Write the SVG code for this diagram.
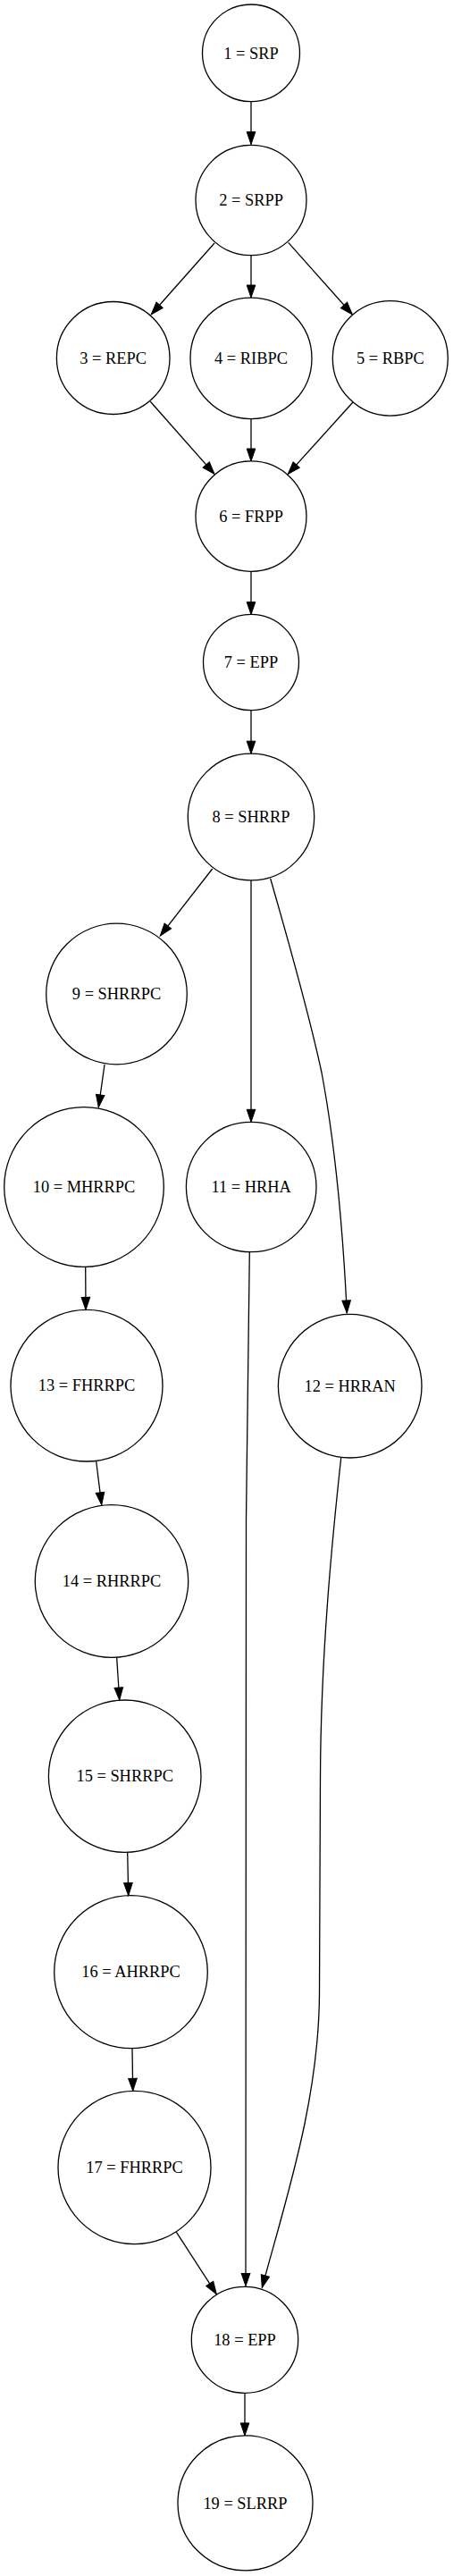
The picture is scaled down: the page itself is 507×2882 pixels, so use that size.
<svg xmlns="http://www.w3.org/2000/svg" width="507" height="2882" viewBox="0 0 507 2882">
<style>
.n ellipse{fill:none;stroke:#000;stroke-width:1.3}
.n text{font-family:"Liberation Serif","Times New Roman",serif;font-size:18.4px;text-anchor:middle;fill:#000}
.e path{fill:none;stroke:#000;stroke-width:1.3;marker-end:url(#ah)}
</style>
<defs>
<marker id="ah" markerUnits="userSpaceOnUse" markerWidth="15" markerHeight="11" refX="14" refY="4.8" orient="auto" overflow="visible">
<path d="M0,0 L14,4.8 L0,9.6 Z" fill="#000" stroke="#000" stroke-width="1"/>
</marker>
</defs>
<rect width="507" height="2882" fill="#fff"/>
<g id="edges" class="e">
<path d="M281,113.6 L281,161.5"/>
<path d="M240,272 L169.3,351.8"/>
<path d="M281,285.7 L281,333"/>
<path d="M322.7,271.4 L394.3,351.8"/>
<path d="M168.3,449.3 L240,530.4"/>
<path d="M281,468.6 L281,516"/>
<path d="M395,450 L322.3,530.4"/>
<path d="M281,639.3 L281,687.5"/>
<path d="M281,794.6 L281,843.2"/>
<path d="M237.7,972 L179.3,1047"/>
<path d="M281,985 L281,1255.3"/>
<path d="M302.7,983 C322,1050 345,1130 360,1200 C375,1280 384,1380 388.3,1469"/>
<path d="M117,1191 L110.3,1238.8"/>
<path d="M95.7,1417.5 L96,1465.4"/>
<path d="M279.3,1400.7 L275.5,1700 L275,2557.5"/>
<path d="M381.7,1631 C372,1720 359,1850 358.5,1990 L357.5,2230 C357,2350 320,2460 293.3,2559.5"/>
<path d="M107.7,1635 L113.7,1683.7"/>
<path d="M130.7,1854.5 L133.7,1902"/>
<path d="M142.7,2072.4 L143.7,2120.7"/>
<path d="M148,2291.7 L148.7,2339.3"/>
<path d="M197.3,2497.2 L242.3,2566.6"/>
<path d="M274,2677.3 L274,2724.9"/>
</g>
<g id="node1" class="n"><ellipse cx="281" cy="59.3" rx="54.5" ry="54.3"/><text x="281" y="65.5">1 = SRP</text></g>
<g id="node2" class="n"><ellipse cx="281" cy="224" rx="62" ry="61.7"/><text x="281" y="230.2">2 = SRPP</text></g>
<g id="node3" class="n"><ellipse cx="126.7" cy="400.5" rx="63.3" ry="63"/><text x="126.7" y="406.7">3 = REPC</text></g>
<g id="node4" class="n"><ellipse cx="281" cy="400.9" rx="68" ry="67.7"/><text x="281" y="407.1">4 = RIBPC</text></g>
<g id="node5" class="n"><ellipse cx="436.8" cy="400.9" rx="64.5" ry="64.2"/><text x="436.8" y="407.1">5 = RBPC</text></g>
<g id="node6" class="n"><ellipse cx="281" cy="577.6" rx="62" ry="61.7"/><text x="281" y="583.8">6 = FRPP</text></g>
<g id="node7" class="n"><ellipse cx="281" cy="741" rx="53.5" ry="53.6"/><text x="281" y="747.2">7 = EPP</text></g>
<g id="node8" class="n"><ellipse cx="281" cy="914" rx="70.7" ry="70.9"/><text x="281" y="920.2">8 = SHRRP</text></g>
<g id="node9" class="n"><ellipse cx="130.5" cy="1112" rx="78.8" ry="78.8"/><text x="130.5" y="1118.2">9 = SHRRPC</text></g>
<g id="node10" class="n"><ellipse cx="94" cy="1328" rx="89.3" ry="89.3"/><text x="94" y="1334.2">10 = MHRRPC</text></g>
<g id="node11" class="n"><ellipse cx="281.2" cy="1328" rx="72.8" ry="72.7"/><text x="281.2" y="1334.2">11 = HRHA</text></g>
<g id="node12" class="n"><ellipse cx="391.7" cy="1550.7" rx="80.3" ry="80.3"/><text x="391.7" y="1556.9">12 = HRRAN</text></g>
<g id="node13" class="n"><ellipse cx="97" cy="1550.2" rx="85" ry="84.8"/><text x="97" y="1556.4">13 = FHRRPC</text></g>
<g id="node14" class="n"><ellipse cx="125" cy="1769" rx="85.7" ry="85.4"/><text x="125" y="1775.2">14 = RHRRPC</text></g>
<g id="node15" class="n"><ellipse cx="139.7" cy="1987.2" rx="85.3" ry="85.2"/><text x="139.7" y="1993.4">15 = SHRRPC</text></g>
<g id="node16" class="n"><ellipse cx="146.5" cy="2206.2" rx="85.8" ry="85.5"/><text x="146.5" y="2212.4">16 = AHRRPC</text></g>
<g id="node17" class="n"><ellipse cx="150.5" cy="2425" rx="85.5" ry="85.7"/><text x="150.5" y="2431.2">17 = FHRRPC</text></g>
<g id="node18" class="n"><ellipse cx="274" cy="2617.8" rx="59.7" ry="59.5"/><text x="274" y="2624">18 = EPP</text></g>
<g id="node19" class="n"><ellipse cx="274.5" cy="2800.4" rx="75.5" ry="75.5"/><text x="274.5" y="2806.6">19 = SLRRP</text></g>
</svg>
